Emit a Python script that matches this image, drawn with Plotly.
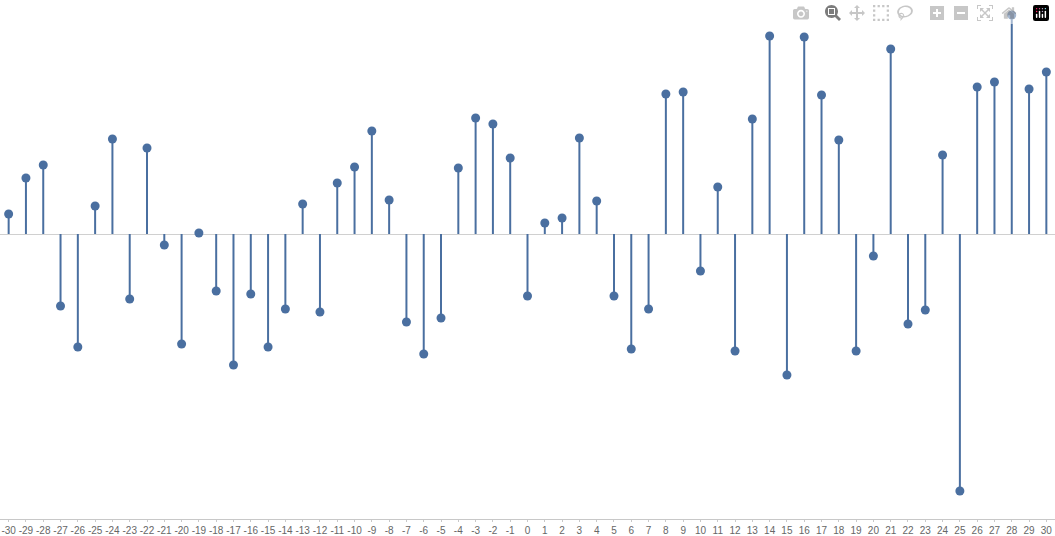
import plotly.graph_objects as go

x_vals = list(range(-30, 31))
y_vals = [20, 56, 69, -72, -113, 28, 95, -65, 86, -11,
          -110, 1, -57, -131, -60, -113, -75, 30, -78, 51,
          67, 103, 34, -88, -120, -84, 66, 116, 110, 76,
          -62, 11, 16, 96, 33, -62, -115, -75, 140, 142,
          -37, 47, -117, 115, 198, -141, 197, 139, 94, -117,
          -22, 185, -90, -76, 79, -257, 147, 152, 219, 145, 162]

color = "#4a6fa0"
sx, sy = [], []
for xv, yv in zip(x_vals, y_vals):
    sx += [xv, xv, None]
    sy += [0, yv, None]

fig = go.Figure()
fig.add_trace(go.Scatter(x=sx, y=sy, mode="lines", line=dict(color=color, width=2), hoverinfo="skip"))
fig.add_trace(go.Scatter(x=x_vals, y=y_vals, mode="markers", marker=dict(color=color, size=9)))

fig.update_layout(
    width=1055, height=536, showlegend=False,
    margin=dict(l=0, r=0, t=0, b=17),
    plot_bgcolor="white", paper_bgcolor="white",
    xaxis=dict(range=[-30.5, 30.5], tickmode="array", tickvals=x_vals,
               ticktext=[str(v) for v in x_vals], showgrid=False, zeroline=False,
               showline=True, linecolor="#c8c8c8", ticks="outside", ticklen=2, tickcolor="#c8c8c8",
               tickfont=dict(family="Arial", size=10, color="#666666")),
    yaxis=dict(range=[-285, 234], showticklabels=False, showgrid=False,
               zeroline=True, zerolinecolor="#d0d0d0", zerolinewidth=1),
)
fig.write_html("out.html", post_script="document.body.style.margin='0';document.body.style.overflow='hidden';")
